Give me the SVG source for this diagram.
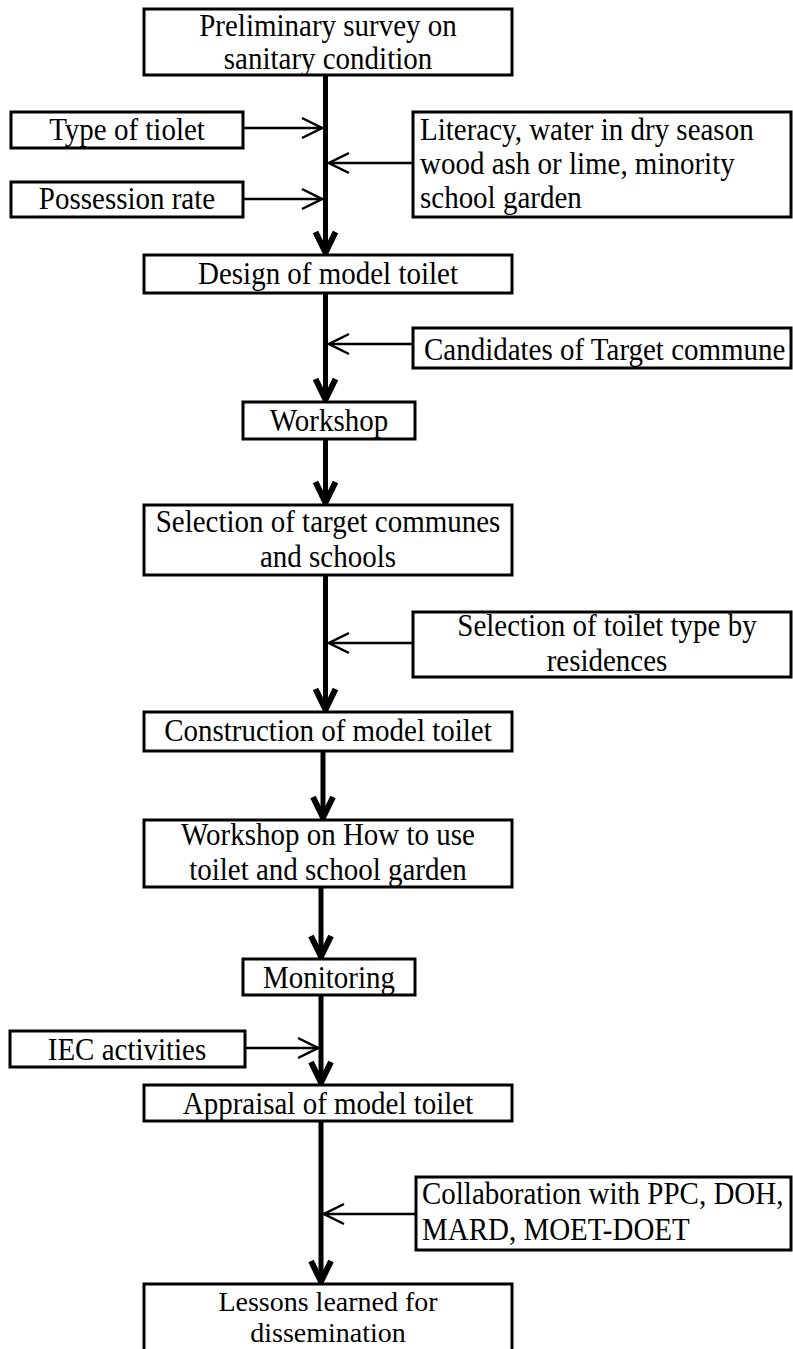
<svg xmlns="http://www.w3.org/2000/svg" width="793" height="1349" viewBox="0 0 793 1349">
<style>
.box{fill:#fff;stroke:#000;stroke-width:3}
text{font-family:"Liberation Serif","Times New Roman",serif;font-size:31px;fill:#000}
.c{text-anchor:middle}
.sm{font-size:28px}
.main{stroke:#000;stroke-width:5;fill:none}
.side{stroke:#000;stroke-width:2.5;fill:none}
</style>
<defs>
<marker id="ah" viewBox="-28 -14 32 28" refX="0" refY="0" markerWidth="32" markerHeight="28" markerUnits="userSpaceOnUse" orient="auto">
<path d="M-22,-10 L-1.5,0 L-22,10" fill="none" stroke="#000" stroke-width="6" stroke-linejoin="miter"/>
</marker>
<marker id="as" viewBox="-24 -13 26 26" refX="0" refY="0" markerWidth="26" markerHeight="26" markerUnits="userSpaceOnUse" orient="auto">
<path d="M-20,-10 L0,0 L-20,10" fill="none" stroke="#000" stroke-width="2.5"/>
</marker>
</defs>
<rect width="793" height="1349" fill="#fff"/>
<g id="connectors">
<line class="main" x1="325.5" y1="75" x2="325.5" y2="254" marker-end="url(#ah)"/>
<line class="main" x1="325.5" y1="293" x2="325.5" y2="401" marker-end="url(#ah)"/>
<line class="main" x1="325.5" y1="439" x2="325.5" y2="504" marker-end="url(#ah)"/>
<line class="main" x1="325.5" y1="575" x2="325.5" y2="711" marker-end="url(#ah)"/>
<line class="main" x1="323" y1="751" x2="323" y2="819" marker-end="url(#ah)"/>
<line class="main" x1="321" y1="887" x2="321" y2="958" marker-end="url(#ah)"/>
<line class="main" x1="321" y1="995" x2="321" y2="1084" marker-end="url(#ah)"/>
<line class="main" x1="321" y1="1121" x2="321" y2="1283" marker-end="url(#ah)"/>
<line class="side" x1="243" y1="128" x2="322" y2="128" marker-end="url(#as)"/>
<line class="side" x1="243" y1="199" x2="322" y2="199" marker-end="url(#as)"/>
<line class="side" x1="413" y1="163" x2="329" y2="163" marker-end="url(#as)"/>
<line class="side" x1="413" y1="344" x2="329" y2="344" marker-end="url(#as)"/>
<line class="side" x1="413" y1="643" x2="329" y2="643" marker-end="url(#as)"/>
<line class="side" x1="245" y1="1048" x2="318" y2="1048" marker-end="url(#as)"/>
<line class="side" x1="416" y1="1214" x2="324" y2="1214" marker-end="url(#as)"/>
</g>
<g id="n-preliminary">
<rect class="box" x="144" y="9" width="368" height="66"/>
<text class="c" transform="translate(328 36) scale(0.935 1)">Preliminary survey on</text>
<text class="c" transform="translate(328 69) scale(0.935 1)">sanitary condition</text>
</g>
<g id="n-type">
<rect class="box" x="11" y="112" width="232" height="36"/>
<text class="c" transform="translate(127 140) scale(0.935 1)">Type of tiolet</text>
</g>
<g id="n-possession">
<rect class="box" x="11" y="182" width="232" height="35"/>
<text class="c" transform="translate(127 209) scale(0.935 1)">Possession rate</text>
</g>
<g id="n-literacy">
<rect class="box" x="413" y="112" width="378" height="105"/>
<text transform="translate(420 140) scale(0.935 1)">Literacy, water in dry season</text>
<text transform="translate(420 174) scale(0.935 1)">wood ash or lime, minority</text>
<text transform="translate(420 208) scale(0.935 1)">school garden</text>
</g>
<g id="n-design">
<rect class="box" x="144" y="255" width="368" height="38"/>
<text class="c" transform="translate(328 284) scale(0.935 1)">Design of model toilet</text>
</g>
<g id="n-candidates">
<rect class="box" x="413" y="328" width="378" height="40"/>
<text transform="translate(424 360) scale(0.935 1)">Candidates of Target commune</text>
</g>
<g id="n-workshop">
<rect class="box" x="243" y="402" width="172" height="37"/>
<text class="c" transform="translate(329 431) scale(0.935 1)">Workshop</text>
</g>
<g id="n-selection">
<rect class="box" x="144" y="505" width="368" height="70"/>
<text class="c" transform="translate(328 532) scale(0.935 1)">Selection of target communes</text>
<text class="c" transform="translate(328 567) scale(0.935 1)">and schools</text>
</g>
<g id="n-toilettype">
<rect class="box" x="413" y="612" width="378" height="65"/>
<text class="c" transform="translate(607 636) scale(0.935 1)">Selection of toilet type by</text>
<text class="c" transform="translate(607 671) scale(0.935 1)">residences</text>
</g>
<g id="n-construction">
<rect class="box" x="144" y="712" width="368" height="39"/>
<text class="c" transform="translate(328 741) scale(0.935 1)">Construction of model toilet</text>
</g>
<g id="n-workshop-how">
<rect class="box" x="144" y="820" width="368" height="67"/>
<text class="c" transform="translate(328 845) scale(0.935 1)">Workshop on How to use</text>
<text class="c" transform="translate(328 880) scale(0.935 1)">toilet and school garden</text>
</g>
<g id="n-monitoring">
<rect class="box" x="243" y="959" width="172" height="36"/>
<text class="c" transform="translate(329 988) scale(0.935 1)">Monitoring</text>
</g>
<g id="n-iec">
<rect class="box" x="10" y="1031" width="235" height="36"/>
<text class="c" transform="translate(127 1060) scale(0.935 1)">IEC activities</text>
</g>
<g id="n-appraisal">
<rect class="box" x="144" y="1085" width="368" height="36"/>
<text class="c" transform="translate(328 1114) scale(0.935 1)">Appraisal of model toilet</text>
</g>
<g id="n-collaboration">
<rect class="box" x="416" y="1177" width="375" height="73"/>
<text transform="translate(422 1204) scale(0.935 1)">Collaboration with PPC, DOH,</text>
<text transform="translate(422 1240) scale(0.935 1)">MARD, MOET-DOET</text>
</g>
<g id="n-lessons">
<rect class="box" x="144" y="1284" width="368" height="80"/>
<text class="c sm" transform="translate(328 1311) scale(1 1)">Lessons learned for</text>
<text class="c sm" transform="translate(328 1342) scale(1 1)">dissemination</text>
</g>
</svg>
